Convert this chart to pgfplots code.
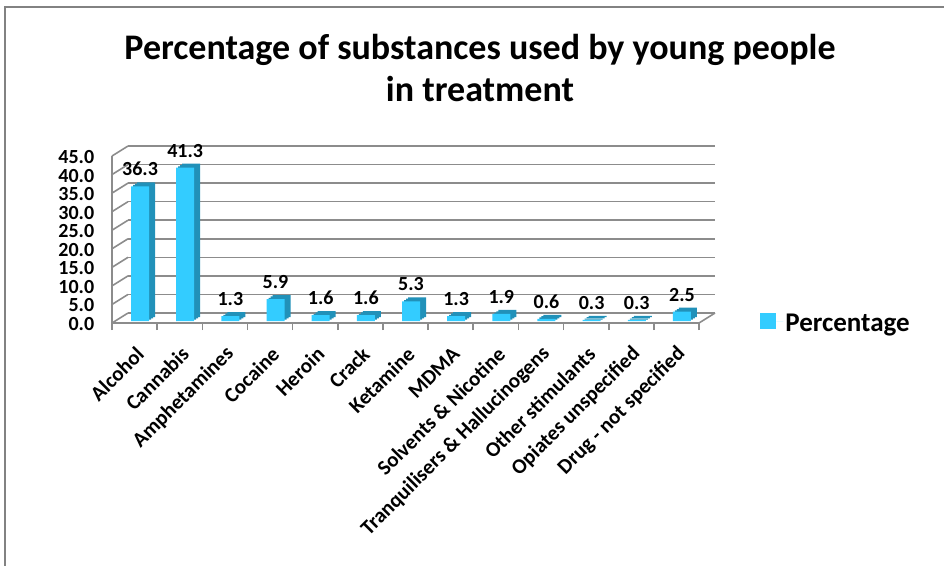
\documentclass[border=0pt]{standalone}
\usepackage{pgfplots}
\pgfplotsset{compat=1.18}
\usepackage{pgfplotstable}
\usepackage{fontspec}
\setmainfont{Carlito}

\definecolor{barfront}{RGB}{51,204,255}
\definecolor{barside}{RGB}{33,145,185}
\definecolor{wallgray}{RGB}{140,140,140}
\definecolor{framegray}{RGB}{130,130,130}

% share (%) of each substance, by category index
\pgfplotstableread{
idx value
0  36.3
1  41.3
2  1.3
3  5.9
4  1.6
5  1.6
6  5.3
7  1.3
8  1.9
9  0.6
10 0.3
11 0.3
12 2.5
}\substances

\pgfplotsset{
  barbase/.style={ybar, bar width=18pt, bar shift=0pt, draw=none},
  sidelayer/.style={barbase, fill=barside, forget plot},
}

\begin{document}
\begin{tikzpicture}[x=1pt,y=1pt]
\useasboundingbox (0,0) rectangle (944,-565);
\draw[framegray, line width=2.5pt] (5,-566) -- (5,-7) -- (945,-7);

% title
\node[anchor=base, font=\bfseries\fontsize{36}{42}\selectfont] at (480,-59)
  {Percentage of substances used by young people};
\node[anchor=base, font=\bfseries\fontsize{36}{42}\selectfont] at (480,-101)
  {in treatment};

% back wall with its gridlines
\begin{axis}[
  at={(128pt,-313pt)}, anchor=south west, scale only axis,
  width=587pt, height=167pt,
  xmin=-0.5, xmax=12.5, ymin=0, ymax=45,
  xtick=\empty, ytick={0,5,...,45}, yticklabels={},
  major tick length=0pt,
  ymajorgrids, grid style={wallgray, line width=1.6pt},
  axis line style={draw=none},
]
\end{axis}

% front: floor, axes, bars, labels
\begin{axis}[
  at={(112pt,-323pt)}, anchor=south west, scale only axis,
  width=587pt, height=167pt,
  xmin=-0.5, xmax=12.5, ymin=0, ymax=45,
  clip=false,
  axis x line*=bottom, axis y line*=left,
  axis line style={wallgray, line width=1.6pt, -},
  xtick={0,...,12},
  xticklabels={Alcohol, Cannabis, Amphetamines, Cocaine, Heroin, Crack,
    Ketamine, MDMA, Solvents \& Nicotine, Tranquilisers \& Hallucinogens,
    Other stimulants, Opiates unspecified, Drug - not specified},
  major x tick style={draw=none},
  minor xtick={-0.5,0.5,...,12.5},
  minor tick length=7pt, tick align=outside,
  minor tick style={wallgray, line width=1.6pt},
  ytick={0,5,...,45},
  major y tick style={draw=none},
  tick label style={font=\bfseries\fontsize{20}{24}\selectfont},
  yticklabel style={xshift=-10pt, yshift=-1pt,
    /pgf/number format/.cd, fixed, fixed zerofill, precision=1,
    assume math mode=true},
  xticklabel style={font=\bfseries\fontsize{21}{24}\selectfont,
    xshift=8pt, yshift=-21pt, rotate=45, anchor=east},
  legend style={at={(1.099,0.0)}, anchor=west, draw=none, fill=none,
    font=\bfseries\fontsize{27}{32}\selectfont},
  legend cell align=left,
]
% left wall and floor edges
\pgfplotsinvokeforeach{0,5,...,45}{
  \draw[wallgray, line width=1.6pt] (axis cs:-0.5,#1) -- ++(16pt,10pt);
}
\draw[wallgray, line width=1.6pt] (axis cs:12.5,0) -- ++(16pt,10pt);

% bar depth (side and top faces)
\addplot[sidelayer, xshift=7.5pt, yshift=3.3pt] table[x=idx, y=value] {\substances};
\addplot[sidelayer, xshift=9.5pt, yshift=4.7pt] table[x=idx, y=value] {\substances};
\addplot[sidelayer, xshift=11.5pt, yshift=6pt] table[x=idx, y=value] {\substances};
% bar front faces
\addplot[barbase, fill=barfront, xshift=5.5pt, yshift=2pt,
  legend image code/.code={\fill[barfront] (0pt,-8pt) rectangle (16pt,8pt);
    \path (16pt,0pt) -- (23pt,0pt);},
  nodes near coords={\pgfmathprintnumber[fixed, fixed zerofill, precision=1,
    assume math mode=true]{\pgfplotspointmeta}},
  nodes near coords style={font=\bfseries\fontsize{20}{24}\selectfont,
    text=black, yshift=7pt},
] table[x=idx, y=value] {\substances};
\addlegendentry{Percentage}
\end{axis}
\end{tikzpicture}
\end{document}
